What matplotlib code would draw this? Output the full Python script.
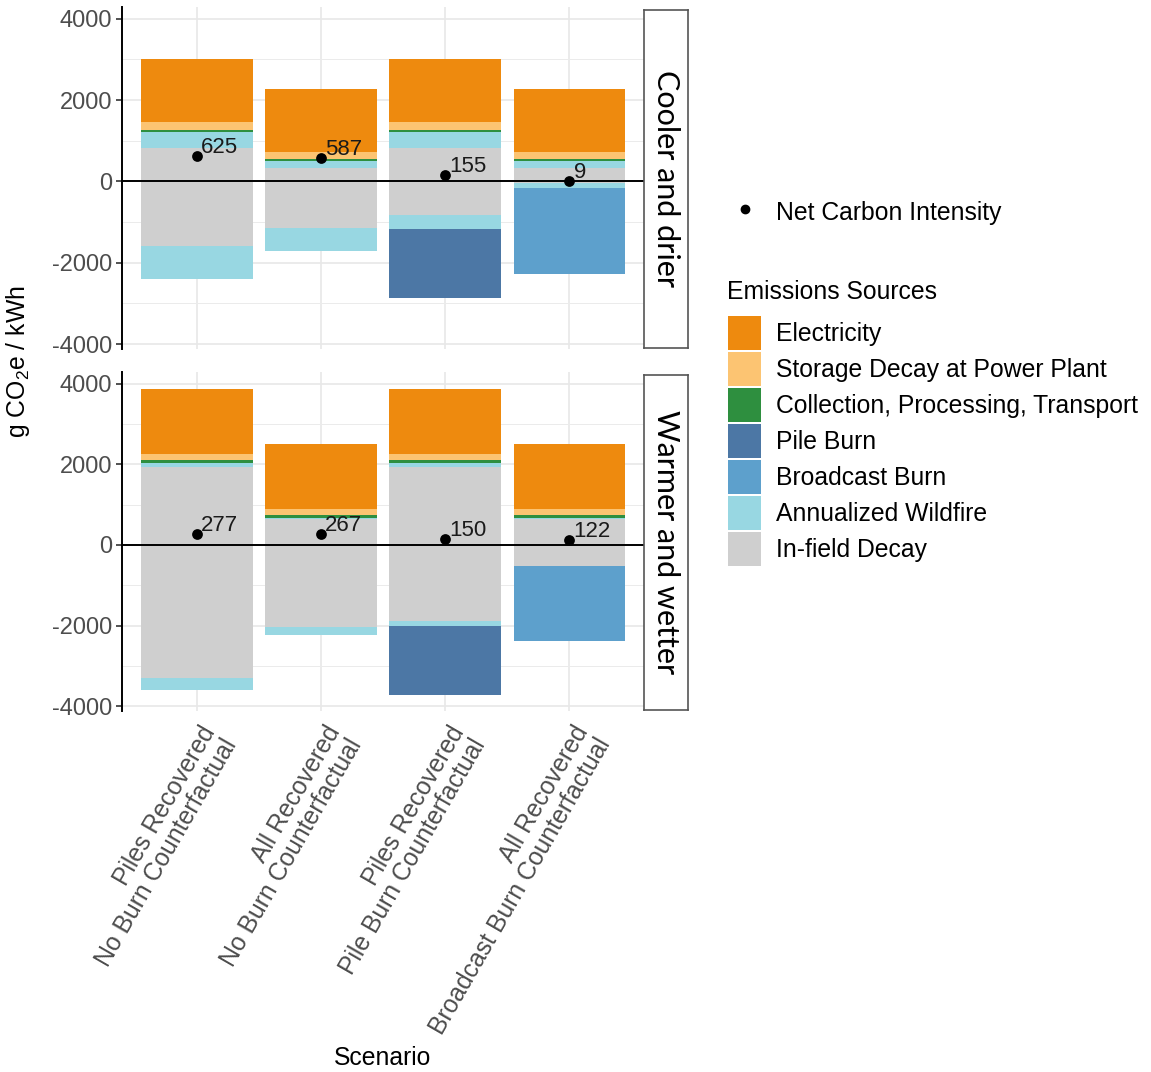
import numpy as np
import matplotlib.pyplot as plt
from matplotlib.patches import Patch
from matplotlib.lines import Line2D
from matplotlib.transforms import ScaledTranslation

plt.rcParams['font.family'] = ['Liberation Sans', 'DejaVu Sans']
plt.rcParams['mathtext.fontset'] = 'custom'
plt.rcParams['mathtext.rm'] = 'Liberation Sans'
plt.rcParams['mathtext.it'] = 'Liberation Sans'
plt.rcParams['axes.unicode_minus'] = False

scenarios = ["Piles Recovered\nNo Burn Counterfactual",
             "All Recovered\nNo Burn Counterfactual",
             "Piles Recovered\nPile Burn Counterfactual",
             "All Recovered\nBroadcast Burn Counterfactual"]
climates = ["Cooler and drier", "Warmer and wetter"]
sources = ["Electricity", "Storage Decay at Power Plant",
           "Collection, Processing, Transport", "Pile Burn",
           "Broadcast Burn", "Annualized Wildfire", "In-field Decay"]
colors = ["#EE8A0E", "#FCC472", "#2E8F3F", "#4C77A5",
          "#5DA0CC", "#98D7E2", "#CFCFCF"]

# rows follow sources, columns follow scenarios (g CO2e / kWh)
cool_pos = [[1565, 1565, 1565, 1565],
            [179, 164, 179, 164],
            [49, 57, 49, 57],
            [0, 0, 0, 0],
            [0, 0, 0, 0],
            [400, 164, 400, 164],
            [827, 335, 827, 335]]
cool_neg = [[0, 0, 0, 0],
            [0, 0, 0, 0],
            [0, 0, 0, 0],
            [0, 0, -1685, 0],
            [0, 0, 0, -2121],
            [-805, -548, -350, -115],
            [-1590, -1150, -830, -40]]
warm_pos = [[1605, 1605, 1605, 1605],
            [147, 147, 147, 147],
            [81, 82, 81, 82],
            [0, 0, 0, 0],
            [0, 0, 0, 0],
            [115, 20, 115, 20],
            [1922, 640, 1922, 640]]
warm_neg = [[0, 0, 0, 0],
            [0, 0, 0, 0],
            [0, 0, 0, 0],
            [0, 0, -1700, 0],
            [0, 0, 0, -1840],
            [-283, -197, -123, 0],
            [-3310, -2030, -1897, -532]]
cool_net = [625, 587, 155, 9]
warm_net = [277, 267, 150, 122]

W, H = 1151, 1072
fig = plt.figure(figsize=(W / 100, H / 100), dpi=100)


def box(l, t, r, b):
    return [l / W, 1 - b / H, (r - l) / W, (b - t) / H]


FS = 17.8
GREY = "#4D4D4D"
panels = [(7, 349), (372, 711)]
x = np.arange(1, len(scenarios) + 1)

for k, (pos, neg, net) in enumerate([(cool_pos, cool_neg, cool_net),
                                     (warm_pos, warm_neg, warm_net)]):
    top, bot = panels[k]
    ax = fig.add_axes(box(122, top, 644, bot))
    up = np.zeros(len(x))
    down = np.zeros(len(x))
    for i in reversed(range(len(sources))):
        p = np.array(pos[i], float)
        n = np.array(neg[i], float)
        ax.bar(x, p, bottom=up, width=0.9, color=colors[i], linewidth=0, zorder=2)
        ax.bar(x, n, bottom=down, width=0.9, color=colors[i], linewidth=0, zorder=2)
        up += p
        down += n
    ax.axhline(0, color="black", lw=1.4, zorder=3)
    ax.scatter(x, net, s=60, color="black", zorder=4, linewidths=0)
    for xi, v in zip(x, net):
        ax.annotate(str(v), (xi, v), xytext=(3, 2), textcoords="offset points",
                    ha="left", va="baseline", fontsize=16, color="#1A1A1A", zorder=5)

    ax.set_xlim(0.4, 4.6)
    ax.set_ylim(-4120, 4290)
    ax.set_yticks(np.arange(-4000, 4001, 2000))
    ax.set_yticks([-3000, -1000, 1000, 3000], minor=True)
    ax.set_xticks(x)
    ax.grid(which="major", color="#E8E8E8", lw=1.2)
    ax.grid(which="minor", axis="y", color="#EBEBEB", lw=0.7)
    ax.set_axisbelow(True)
    for s in ["top", "right", "bottom"]:
        ax.spines[s].set_visible(False)
    ax.spines["left"].set_linewidth(1.4)
    ax.tick_params(axis="y", which="major", length=4, width=1.2, color="#333333",
                   labelsize=17, labelcolor=GREY, pad=3)
    ax.tick_params(axis="y", which="minor", length=0)
    ax.tick_params(axis="x", length=0)
    if k == 0:
        ax.set_xticklabels([])
    else:
        ax.set_xticklabels(scenarios, rotation=60, ha="right", va="top",
                           rotation_mode="anchor", fontsize=FS, color=GREY,
                           linespacing=1.05)
        for lbl in ax.get_xticklabels():
            lbl.set_transform(lbl.get_transform() +
                              ScaledTranslation(0.03, -0.06, fig.dpi_scale_trans))

    # facet strip
    sax = fig.add_axes(box(644, top + 3, 688, bot - 1))
    sax.set_xticks([])
    sax.set_yticks([])
    for s in sax.spines.values():
        s.set_edgecolor("#555555")
        s.set_linewidth(1.2)
    sax.text(0.5, 0.5, climates[k], rotation=-90, ha="center", va="center",
             fontsize=22, family=["Lato", "DejaVu Sans"], transform=sax.transAxes)

fig.text(18 / W, 1 - 362 / H, r"g CO$_2$e / kWh", rotation=90, ha="center",
         va="center", fontsize=FS)
fig.text(383 / W, 1 - 1058 / H, "Scenario", ha="center", va="center", fontsize=FS)

leg1 = fig.legend(handles=[Line2D([], [], marker="o", color="black", linestyle="none",
                                  markersize=6)],
                  labels=["Net Carbon Intensity"], loc="upper left",
                  bbox_to_anchor=(728 / W, 1 - 198 / H), frameon=False, fontsize=FS,
                  handlelength=1.34, handleheight=1.38, handletextpad=0.6,
                  borderpad=0, borderaxespad=0)
fig.text(727 / W, 1 - 292 / H, "Emissions Sources", ha="left", va="center",
         fontsize=FS)
leg2 = fig.legend(handles=[Patch(facecolor=c, edgecolor="none") for c in colors],
                  labels=sources, loc="upper left",
                  bbox_to_anchor=(728 / W, 1 - 316 / H), frameon=False, fontsize=FS,
                  handlelength=1.34, handleheight=1.74, handletextpad=0.6,
                  labelspacing=0.08, borderpad=0, borderaxespad=0)

fig.savefig("out.png", dpi=100)
